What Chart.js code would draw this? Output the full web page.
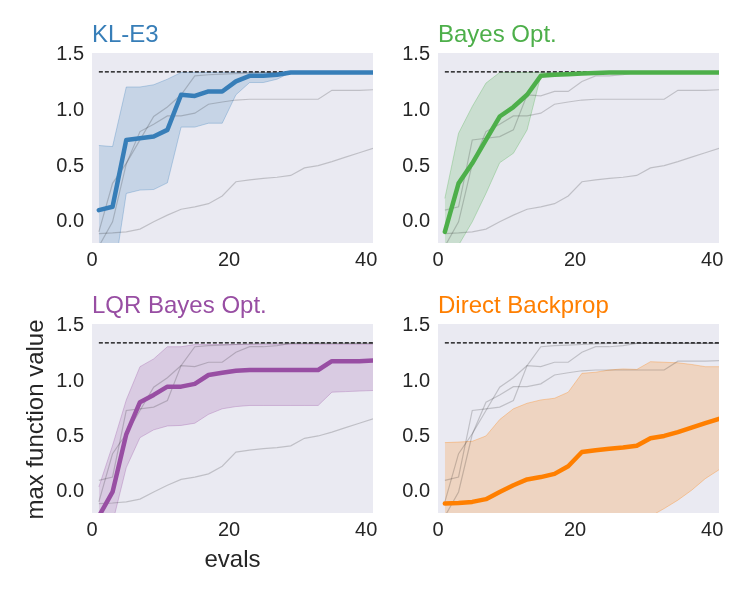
<!DOCTYPE html>
<html>
<head>
<meta charset="utf-8">
<script src="https://cdn.jsdelivr.net/npm/chart.js@4.4.0/dist/chart.umd.min.js"></script>
<style>
  html, body { margin: 0; padding: 0; background: #fff; width: 747px; height: 598px; overflow: hidden; }
  canvas { position: absolute; }
</style>
</head>
<body>
<canvas id="p0" width="383" height="290" style="left:0;top:0"></canvas>
<canvas id="p1" width="364" height="290" style="left:383px;top:0"></canvas>
<canvas id="p2" width="383" height="308" style="left:0;top:290px"></canvas>
<canvas id="p3" width="364" height="308" style="left:383px;top:290px"></canvas>
<script>
// evaluations (x) shared by every curve
const EVALS = [1, 3, 5, 7, 9, 11, 13, 15, 17, 19, 21, 23, 25, 27, 29, 31, 33, 35, 37, 39, 41]
const X_TICKS = [0, 20, 40]
const Y_TICKS = [0.0, 0.5, 1.0, 1.5]
const OPTIMUM = 1.345

// KL-E3
const KL_MEAN  = [0.105, 0.135, 0.735, 0.75, 0.765, 0.825, 1.14, 1.13, 1.17, 1.17, 1.26, 1.31, 1.31, 1.32, 1.34, 1.34, 1.34, 1.34, 1.34, 1.34, 1.34]
const KL_UPPER = [0.685, 0.675, 1.21, 1.21, 1.23, 1.28, 1.34, 1.34, 1.34, 1.34, 1.34, 1.34, 1.34, 1.34, 1.34, 1.34, 1.34, 1.34, 1.34, 1.34, 1.34]
const KL_LOWER = [-0.47, -0.55, 0.255, 0.285, 0.29, 0.35, 0.85, 0.85, 0.885, 0.885, 1.14, 1.25, 1.25, 1.28, 1.34, 1.34, 1.34, 1.34, 1.34, 1.34, 1.34]

// Bayes Opt.
const BO_MEAN  = [-0.09, 0.345, 0.525, 0.735, 0.945, 1.03, 1.14, 1.31, 1.32, 1.325, 1.33, 1.335, 1.34, 1.34, 1.34, 1.34, 1.34, 1.34, 1.34, 1.34, 1.34]
const BO_UPPER = [0.21, 0.795, 1.035, 1.245, 1.34, 1.34, 1.34, 1.34, 1.34, 1.34, 1.34, 1.34, 1.34, 1.34, 1.34, 1.34, 1.34, 1.34, 1.34, 1.34, 1.34]
const BO_LOWER = [-0.39, -0.21, 0.0, 0.255, 0.53, 0.615, 0.825, 1.31, 1.32, 1.325, 1.33, 1.335, 1.34, 1.34, 1.34, 1.34, 1.34, 1.34, 1.34, 1.34, 1.34]

// LQR Bayes Opt.
const LQR_MEAN  = [-0.22, 0.0, 0.52, 0.81, 0.875, 0.95, 0.95, 0.975, 1.055, 1.075, 1.093, 1.10, 1.10, 1.10, 1.10, 1.10, 1.10, 1.18, 1.18, 1.18, 1.185]
const LQR_UPPER = [0.045, 0.42, 0.83, 1.13, 1.20, 1.31, 1.31, 1.33, 1.33, 1.33, 1.33, 1.33, 1.33, 1.33, 1.33, 1.33, 1.33, 1.33, 1.33, 1.33, 1.33]
const LQR_LOWER = [-0.45, -0.28, 0.22, 0.49, 0.56, 0.595, 0.60, 0.62, 0.70, 0.75, 0.77, 0.78, 0.78, 0.78, 0.78, 0.78, 0.78, 0.90, 0.905, 0.91, 0.915]

// Direct Backprop
const DB_MEAN  = [-0.105, -0.10, -0.09, -0.065, 0.0, 0.06, 0.113, 0.134, 0.163, 0.232, 0.36, 0.377, 0.39, 0.40, 0.416, 0.484, 0.505, 0.54, 0.58, 0.62, 0.66]
const DB_UPPER = [0.445, 0.45, 0.457, 0.505, 0.653, 0.75, 0.80, 0.83, 0.845, 0.90, 1.07, 1.08, 1.10, 1.11, 1.105, 1.175, 1.17, 1.165, 1.15, 1.13, 1.13]
const DB_LOWER = [-0.655, -0.65, -0.64, -0.635, -0.65, -0.63, -0.57, -0.56, -0.52, -0.44, -0.35, -0.33, -0.32, -0.31, -0.27, -0.22, -0.15, -0.074, 0.015, 0.12, 0.2]

const NAMES  = ["KL-E3", "Bayes Opt.", "LQR Bayes Opt.", "Direct Backprop"]
const COLORS = ["55,126,184", "77,175,74", "152,78,163", "255,127,0"]
const MEANS  = [KL_MEAN, BO_MEAN, LQR_MEAN, DB_MEAN]
const UPPERS = [KL_UPPER, BO_UPPER, LQR_UPPER, DB_UPPER]
const LOWERS = [KL_LOWER, BO_LOWER, LQR_LOWER, DB_LOWER]

const FONT = '"Liberation Sans", Arial, sans-serif'
const INK = "#262626"

const pts = (ys) => ys.map((y, i) => ({ x: EVALS[i], y }))

const panelText = {
  id: "panelText",
  beforeDraw(chart) {
    const { ctx, chartArea: a } = chart
    ctx.save()
    ctx.fillStyle = "#EAEAF2"
    ctx.fillRect(a.left, a.top, a.right - a.left, a.bottom - a.top)
    ctx.restore()
  },
  afterDraw(chart, args, opts) {
    const { ctx, chartArea: a } = chart
    ctx.save()
    ctx.font = `24px ${FONT}`
    ctx.fillStyle = opts.color
    ctx.textBaseline = "alphabetic"
    ctx.textAlign = "left"
    ctx.fillText(opts.title, a.left, a.top - 11.5)
    if (opts.axisLabels) {
      ctx.fillStyle = INK
      ctx.textAlign = "center"
      ctx.fillText("evals", (a.left + a.right) / 2, a.bottom + 54)
      ctx.translate(43, (a.top + a.bottom) / 2 + 1)
      ctx.rotate(-Math.PI / 2)
      ctx.fillText("max function value", 0, 0)
    }
    ctx.restore()
  }
}

function makePanel(k, box) {
  const col = COLORS[k]
  const datasets = [
    {
      data: pts(MEANS[k]), borderColor: `rgb(${col})`, borderWidth: 4.5,
      borderCapStyle: "round", borderJoinStyle: "round", order: 0
    },
    {
      data: [{ x: EVALS[0], y: OPTIMUM }, { x: EVALS[EVALS.length - 1], y: OPTIMUM }],
      borderColor: "#000", borderWidth: 1.2, borderDash: [4, 2], order: 1
    }
  ]
  for (let j = 0; j < 4; j++) {
    if (j === k) continue
    datasets.push({ data: pts(MEANS[j]), borderColor: "rgba(0,0,0,0.18)", borderWidth: 1.2, order: 2 })
  }
  datasets.push({
    data: pts(UPPERS[k]), borderColor: `rgba(${col},0.3)`, borderWidth: 1,
    backgroundColor: `rgba(${col},0.2)`, fill: "+1", order: 3
  })
  datasets.push({ data: pts(LOWERS[k]), borderColor: `rgba(${col},0.3)`, borderWidth: 1, order: 3 })
  datasets.forEach(d => { d.pointRadius = 0; d.tension = 0; d.clip = 0 })

  return new Chart(document.getElementById("p" + k), {
    type: "line",
    data: { datasets },
    plugins: [panelText],
    options: {
      responsive: false,
      animation: false,
      layout: { padding: { left: 0, top: box.top, right: box.right, bottom: 0 } },
      scales: {
        x: {
          type: "linear", min: 0, max: 41,
          grid: { display: false, drawTicks: false }, border: { display: false },
          afterBuildTicks: s => { s.ticks = X_TICKS.map(v => ({ value: v })) },
          afterFit: s => { s.height = box.xh },
          ticks: { font: { family: FONT, size: 20 }, color: INK, padding: 5, maxRotation: 0, autoSkip: false,
                   callback: v => String(v) }
        },
        y: {
          min: -0.19, max: 1.515,
          grid: { display: false, drawTicks: false }, border: { display: false },
          afterBuildTicks: s => { s.ticks = Y_TICKS.map(v => ({ value: v })) },
          afterFit: s => { s.width = box.left },
          ticks: { font: { family: FONT, size: 20 }, color: INK, padding: 8,
                   callback: v => v.toFixed(1) }
        }
      },
      plugins: {
        legend: { display: false },
        tooltip: { enabled: false },
        panelText: { title: NAMES[k], color: `rgb(${col})`, axisLabels: k === 2 }
      }
    }
  })
}

// chart areas: left plots x 92..373, right plots x 438..719; top y 53..243, bottom y 324..513
makePanel(0, { left: 92, right: 10, top: 53, xh: 47 })
makePanel(1, { left: 55, right: 28, top: 53, xh: 47 })
makePanel(2, { left: 92, right: 10, top: 34, xh: 85 })
makePanel(3, { left: 55, right: 28, top: 34, xh: 85 })
</script>
</body>
</html>
